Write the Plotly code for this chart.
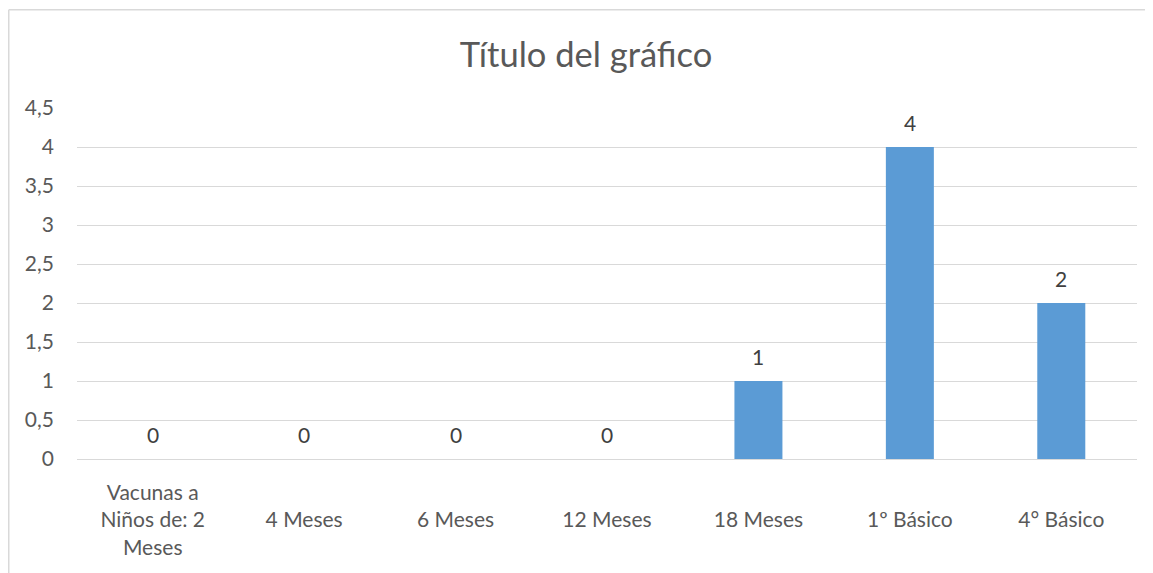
import plotly.graph_objects as go

categories = ["Vacunas a Niños de: 2 Meses", "4 Meses", "6 Meses", "12 Meses",
              "18 Meses", "1º Básico", "4° Básico"]
tick_labels = ["Vacunas a<br>Niños de: 2<br>Meses", " <br>4 Meses<br> ", " <br>6 Meses<br> ",
               " <br>12 Meses<br> ", " <br>18 Meses<br> ", " <br>1º Básico<br> ", " <br>4° Básico<br> "]
values = [0, 0, 0, 0, 1, 4, 2]
y_ticks = [0, 0.5, 1, 1.5, 2, 2.5, 3, 3.5, 4, 4.5]

FONT = "Lato"
OFF = 8  # page body margin
W, H = 1153 - OFF, 573 - OFF
L, R, T, B = 69, 16, 100, 113.5
pw = W - L - R
ph = H - T - B

fig = go.Figure()
fig.add_trace(go.Bar(
    x=categories, y=values,
    marker=dict(color="#5B9BD5", line=dict(width=0)),
    hoverinfo="x+y",
))

for c, v in zip(categories, values):
    fig.add_annotation(x=c, y=v, text=str(v), showarrow=False, yshift=25,
                       font=dict(family=FONT, size=21, color="#404040"))

def px_x(p):
    return (p - L) / pw

def px_y(p):
    return (H - B - p) / ph

fig.add_shape(type="line", xref="paper", yref="paper",
              x0=px_x(0.75), x1=px_x(W + 10), y0=px_y(1.5), y1=px_y(1.5),
              line=dict(color="#D9D9D9", width=1.5))
fig.add_shape(type="line", xref="paper", yref="paper",
              x0=px_x(0.75), x1=px_x(0.75), y0=px_y(1.5), y1=px_y(H + 10),
              line=dict(color="#D9D9D9", width=1.5))

fig.update_layout(
    width=W, height=H,
    margin=dict(l=L, r=R, t=T, b=B, pad=0),
    paper_bgcolor="white", plot_bgcolor="white",
    separators=",.",
    bargap=0.683,
    showlegend=False,
    font=dict(family=FONT, color="#595959"),
    title=dict(text="Título del gráfico", x=(586 - OFF) / W, xref="container", xanchor="center",
               y=1 - (55 - OFF) / H, yref="container", yanchor="middle",
               font=dict(family=FONT, size=34.5, color="#595959")),
    xaxis=dict(tickmode="array", tickvals=categories, ticktext=tick_labels,
               showgrid=False, zeroline=False, showline=False, ticks="",
               ticklabelstandoff=19,
               tickfont=dict(family=FONT, size=21, color="#595959")),
    yaxis=dict(range=[0, 4.5], tickmode="array", tickvals=y_ticks,
               showgrid=True, gridcolor="#D9D9D9", gridwidth=1.3,
               zeroline=True, zerolinecolor="#D9D9D9", zerolinewidth=1.3,
               showline=False, ticks="", ticklabelstandoff=22,
               tickfont=dict(family=FONT, size=21, color="#595959")),
)

fig.write_html("out.html")
